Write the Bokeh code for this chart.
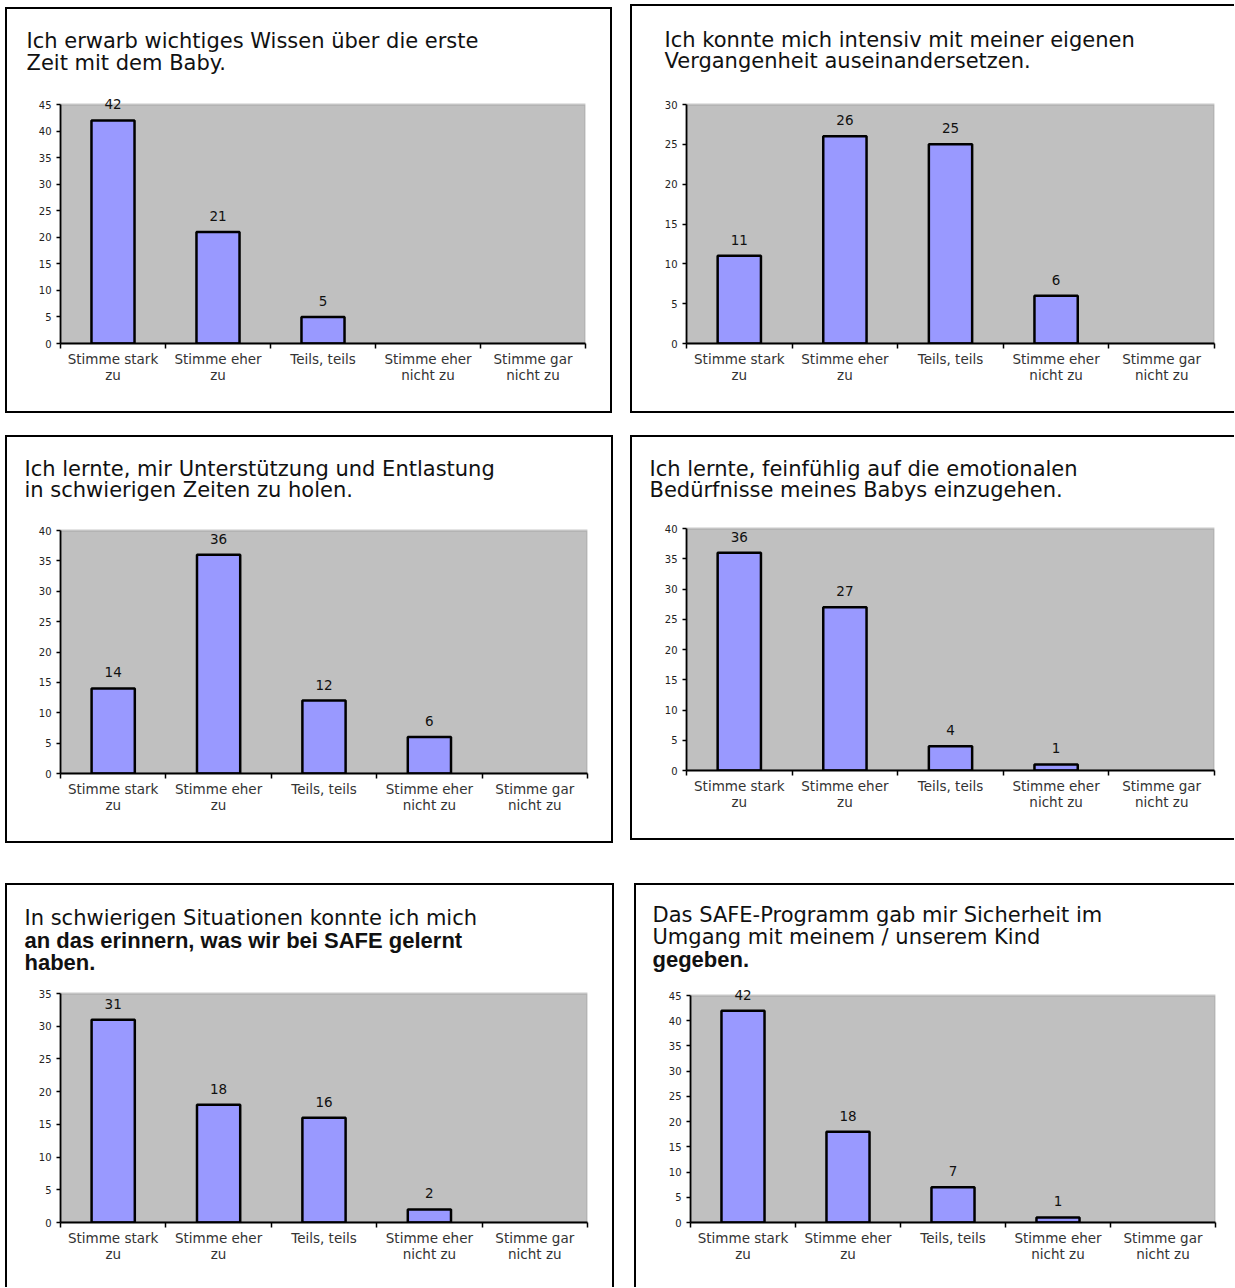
from bokeh.plotting import figure
from bokeh.models import (FixedTicker, LabelSet, ColumnDataSource,
                          BoxAnnotation, Range1d, Spacer)
from bokeh.layouts import column, row
from bokeh.core.properties import value
from bokeh.embed import file_html
from bokeh.resources import INLINE

# ---------------- data ----------------
categories = ["Stimme stark\nzu", "Stimme eher\nzu", "Teils, teils",
              "Stimme eher\nnicht zu", "Stimme gar\nnicht zu"]

values_1 = [42, 21, 5, 0, 0]
values_2 = [11, 26, 25, 6, 0]
values_3 = [14, 36, 12, 6, 0]
values_4 = [36, 27, 4, 1, 0]
values_5 = [31, 18, 16, 2, 0]
values_6 = [42, 18, 7, 1, 0]

y_max = [45, 30, 40, 40, 35, 45]

title_1 = ["Ich erwarb wichtiges Wissen über die erste", "Zeit mit dem Baby."]
title_2 = ["Ich konnte mich intensiv mit meiner eigenen", "Vergangenheit auseinandersetzen."]
title_3 = ["Ich lernte, mir Unterstützung und Entlastung", "in schwierigen Zeiten zu holen."]
title_4 = ["Ich lernte, feinfühlig auf die emotionalen", "Bedürfnisse meines Babys einzugehen."]
title_5 = ["In schwierigen Situationen konnte ich mich",
           "an das erinnern, was wir bei SAFE gelernt", "haben."]
title_6 = ["Das SAFE-Programm gab mir Sicherheit im",
           "Umgang mit meinem / unserem Kind", "gegeben."]
title_styles_5 = ["normal", "bold", "bold"]
title_styles_6 = ["normal", "normal", "bold"]

FONT = "DejaVu Sans"
BOLD_FONT = "Liberation Sans"
EDGE = {"l": "inset 2px 0 0 0 #000", "r": "inset -2px 0 0 0 #000",
        "t": "inset 0 2px 0 0 #000", "b": "inset 0 -2px 0 0 #000"}


def shadow(sides):
    return {"box-shadow": ", ".join(EDGE[s] for s in sides)}


def title_fig(lines, styles, w, h, tx, tys, sides):
    t = figure(width=w, height=h, output_backend="svg", toolbar_location=None,
               title=None, x_range=Range1d(0, w), y_range=Range1d(h, 0),
               x_axis_type=None, y_axis_type=None, frame_align=False,
               min_border_left=0, min_border_right=0,
               min_border_top=0, min_border_bottom=0)
    t.xgrid.visible = False
    t.ygrid.visible = False
    t.outline_line_color = None
    t.background_fill_color = None
    t.border_fill_color = None
    fonts = [BOLD_FONT if s == "bold" else FONT for s in styles]
    sizes = ["22px" if s == "bold" else "21px" for s in styles]
    src = ColumnDataSource(dict(x=[tx] * len(lines), y=tys, text=lines,
                                style=styles, font=fonts, size=sizes))
    t.text(x="x", y="y", text="text", source=src, text_font="font",
           text_font_size="size", text_font_style="style",
           text_color="#111111", text_align="left", text_baseline="alphabetic")
    t.styles = shadow(sides)
    return t


def chart_fig(values, ymax, w, h, bl, br, bb, gray_h, pad, sides):
    y_end = ymax * (gray_h + pad) / gray_h
    p = figure(width=w, height=h, output_backend="svg", toolbar_location=None,
               title=None, x_range=Range1d(0, len(categories)),
               y_range=Range1d(0, y_end), frame_align=False,
               min_border_left=bl, min_border_right=br,
               min_border_top=0, min_border_bottom=bb)
    p.background_fill_color = None
    p.border_fill_color = None
    p.outline_line_color = None
    p.xgrid.visible = False
    p.ygrid.visible = False

    p.add_layout(BoxAnnotation(left=0, right=len(categories), bottom=0, top=ymax,
                               level="underlay", fill_color="#c0c0c0", fill_alpha=1,
                               line_color="#8a8a8a", line_width=2.5))

    xs = [i + 0.5 for i, v in enumerate(values) if v > 0]
    vs = [v for v in values if v > 0]
    src = ColumnDataSource(dict(x=xs, top=vs, lab=[str(v) for v in vs]))
    p.vbar(x="x", top="top", bottom=0, width=0.41, source=src,
           fill_color="#9999ff", line_color="black", line_width=2.5)
    p.add_layout(LabelSet(x="x", y="top", text="lab", source=src,
                          text_align="center", text_baseline="alphabetic",
                          y_offset=11, text_font=value(FONT),
                          text_font_size=value("13.5px"), text_color="#111111"))

    xa = p.xaxis[0]
    xa.ticker = FixedTicker(ticks=[i + 0.5 for i in range(len(categories))],
                            minor_ticks=list(range(len(categories) + 1)))
    xa.major_label_overrides = {i + 0.5: c for i, c in enumerate(categories)}
    xa.major_tick_line_color = None
    xa.major_tick_in = 0
    xa.major_tick_out = 0
    xa.minor_tick_line_color = "black"
    xa.minor_tick_line_width = 1.5
    xa.minor_tick_in = 0
    xa.minor_tick_out = 5
    xa.axis_line_color = "black"
    xa.axis_line_width = 1.8
    xa.major_label_standoff = 2
    xa.major_label_text_line_height = 1.0
    xa.major_label_text_font = FONT
    xa.major_label_text_font_size = "13.5px"
    xa.major_label_text_color = "#333333"

    ya = p.yaxis[0]
    ya.bounds = (0, ymax)
    ya.ticker = FixedTicker(ticks=list(range(0, ymax + 1, 5)), minor_ticks=[])
    ya.major_tick_in = 0
    ya.major_tick_out = 4
    ya.major_tick_line_color = "black"
    ya.major_tick_line_width = 1.3
    ya.minor_tick_line_color = None
    ya.axis_line_color = "black"
    ya.axis_line_width = 1.8
    ya.major_label_standoff = 5
    ya.major_label_text_font = FONT
    ya.major_label_text_font_size = "10px"
    ya.major_label_text_color = "#222222"

    p.styles = shadow(sides)
    return p


PAD = 10
# panel 1  (page x 5-612, y 7-413; gray x 60-585, y 104-343)
t1 = title_fig(title_1, ["normal"] * 2, 607, 87, 21, [33, 55], "ltr")
c1 = chart_fig(values_1, y_max[0], 607, 319, 55, 27, 70, 239, PAD, "lrb")
# panel 2  (page x 630-1234, y 4-413; gray x 686-1214, y 104-343)
t2 = title_fig(title_2, ["normal"] * 2, 604, 90, 34, [35, 56], "lt")
c2 = chart_fig(values_2, y_max[1], 604, 319, 56, 20, 70, 239, PAD, "lb")
# panel 3  (page x 5-613, y 435-843; gray x 60-587, y 530-773)
t3 = title_fig(title_3, ["normal"] * 2, 608, 85, 19, [33, 54], "ltr")
c3 = chart_fig(values_3, y_max[2], 608, 323, 55, 26, 70, 243, PAD, "lrb")
# panel 4  (page x 630-1234, y 435-840; gray x 686-1214, y 528-770)
t4 = title_fig(title_4, ["normal"] * 2, 604, 83, 19, [33, 54], "lt")
c4 = chart_fig(values_4, y_max[3], 604, 322, 56, 20, 70, 242, PAD, "lb")
# panel 5  (page x 5-614, y 883-1287; gray x 60-587, y 993-1222)
t5 = title_fig(title_5, title_styles_5, 609, 100, 19, [34, 57, 79], "ltr")
c5 = chart_fig(values_5, y_max[4], 609, 304, 55, 27, 65, 229, PAD, "lr")
# panel 6  (page x 634-1234, y 883-1287; gray x 690-1215, y 995-1222)
t6 = title_fig(title_6, title_styles_6, 600, 102, 18, [31, 53, 76], "lt")
c6 = chart_fig(values_6, y_max[5], 600, 302, 56, 19, 65, 227, PAD, "l")

layout = column(
    Spacer(width=10, height=4),
    row(Spacer(width=5, height=10), column(Spacer(width=10, height=3), t1, c1),
        Spacer(width=18, height=10), column(t2, c2)),
    Spacer(width=10, height=22),
    row(Spacer(width=5, height=10), column(t3, c3),
        Spacer(width=17, height=10), column(t4, c4)),
    Spacer(width=10, height=40),
    row(Spacer(width=5, height=10), column(t5, c5),
        Spacer(width=20, height=10), column(t6, c6)),
)

with open("out.html", "w") as f:
    f.write(file_html(layout, INLINE))
